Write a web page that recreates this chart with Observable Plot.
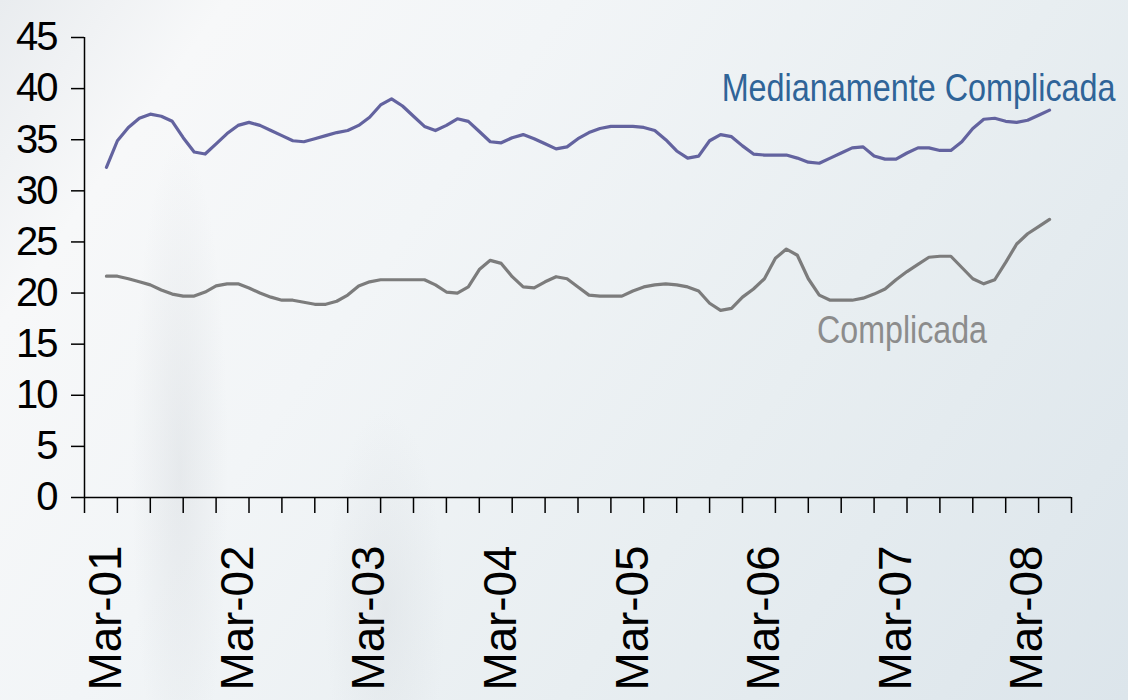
<!DOCTYPE html>
<html>
<head>
<meta charset="utf-8">
<script src="https://cdn.jsdelivr.net/npm/d3@7"></script>
<script src="https://cdn.jsdelivr.net/npm/@observablehq/plot@0.6"></script>
<style>
  html, body { margin: 0; padding: 0; }
  body {
    width: 1128px; height: 700px; overflow: hidden;
    background:
      radial-gradient(ellipse 48px 330px at 180px 470px, rgba(200,205,210,0.30), rgba(200,205,210,0) 100%),
      radial-gradient(ellipse 60px 200px at 385px 610px, rgba(200,205,210,0.25), rgba(200,205,210,0) 100%),
      linear-gradient(125deg, #e9ecef 0%, #f7f8f9 14%, #f2f5f7 35%, #e8eef1 65%, #dce5eb 100%);
  }
  #chart svg { display: block; background: transparent; }
</style>
</head>
<body>
<div id="chart"></div>
<script>
// Month index 0 = Jan-01; data starts Mar-01 (index 2) and runs monthly to May-08
const startMonthIndex = 2;
const medianamente = [
  32.3, 34.9, 36.2, 37.1, 37.5, 37.3, 36.8, 35.2, 33.8, 33.6, 34.6, 35.6,
  36.4, 36.7, 36.4, 35.9, 35.4, 34.9, 34.8, 35.1, 35.4, 35.7, 35.9, 36.4,
  37.2, 38.4, 39.0, 38.3, 37.3, 36.3, 35.9, 36.4, 37.05, 36.8, 35.8, 34.8,
  34.7, 35.2, 35.5, 35.1, 34.6, 34.1, 34.3, 35.1, 35.7, 36.1, 36.3, 36.3,
  36.3, 36.2, 35.9, 35.0, 33.9, 33.2, 33.4, 34.9, 35.5, 35.3, 34.4, 33.6,
  33.5, 33.5, 33.5, 33.2, 32.8, 32.7, 33.2, 33.7, 34.2, 34.3, 33.4, 33.1,
  33.1, 33.7, 34.2, 34.2, 33.95, 33.95, 34.8, 36.1, 37.0, 37.1, 36.8, 36.7,
  36.9, 37.4, 37.9
];
const complicada = [
  21.65, 21.65, 21.4, 21.1, 20.8, 20.3, 19.9, 19.7, 19.7, 20.1, 20.7, 20.9,
  20.9, 20.5, 20.0, 19.6, 19.3, 19.3, 19.1, 18.9, 18.9, 19.2, 19.8, 20.7,
  21.1, 21.3, 21.3, 21.3, 21.3, 21.3, 20.8, 20.1, 20.0, 20.6, 22.3, 23.2,
  22.9, 21.6, 20.6, 20.5, 21.1, 21.6, 21.4, 20.6, 19.8, 19.7, 19.7, 19.7,
  20.2, 20.6, 20.8, 20.9, 20.8, 20.6, 20.2, 19.0, 18.3, 18.5, 19.6, 20.4,
  21.4, 23.4, 24.3, 23.7, 21.4, 19.8, 19.3, 19.3, 19.3, 19.5, 19.9, 20.4,
  21.3, 22.1, 22.8, 23.5, 23.6, 23.6, 22.5, 21.4, 20.9, 21.3, 23.0, 24.8,
  25.8, 26.5, 27.2
];
const yearLabels = ["Mar-01", "Mar-02", "Mar-03", "Mar-04", "Mar-05", "Mar-06", "Mar-07", "Mar-08"];
const yearLabelMonths = [2, 14, 26, 38, 50, 62, 74, 86];
const xTickMonths = d3.range(0, 91, 3);
const yTicks = [0, 5, 10, 15, 20, 25, 30, 35, 40, 45];
const seriesNames = ["Medianamente Complicada", "Complicada"];
const seriesLabelPos = [{x: 58.1, y: 40.0}, {x: 66.8, y: 16.3}];

const toRows = (vals, name) => vals.map((v, i) => ({month: i + startMonthIndex, value: v, series: name}));
const rowsMed = toRows(medianamente, seriesNames[0]);
const rowsCom = toRows(complicada, seriesNames[1]);
const labelRows = seriesNames.map((n, i) => ({name: n, ...seriesLabelPos[i]}));

const medColor = "#63639f";
const comColor = "#7c7c7c";

const chart = Plot.plot({
  width: 1128,
  height: 700,
  marginLeft: 84,
  marginRight: 57,
  marginTop: 37,
  marginBottom: 203,
  style: {background: "transparent", fontFamily: "'Liberation Sans', Arial, sans-serif", color: "#000"},
  x: {type: "linear", domain: [0, 90]},
  y: {domain: [0, 45]},
  marks: [
    Plot.axisY({ticks: yTicks, tickSize: 13, tickPadding: 15, fontSize: 40, strokeWidth: 1.5, tickFormat: d => String(d), label: null}),
    Plot.axisX({ticks: xTickMonths, tickSize: 16, strokeWidth: 1.5, tickFormat: () => "", label: null}),
    Plot.axisX({ticks: yearLabelMonths, tickSize: 0, tickPadding: 48, tickRotate: -90, fontSize: 46,
                tickFormat: m => yearLabels[yearLabelMonths.indexOf(m)], label: null}),
    Plot.ruleX([0], {strokeWidth: 1.5}),
    Plot.ruleY([0], {strokeWidth: 1.5}),
    Plot.lineY(rowsCom, {x: "month", y: "value", stroke: comColor, strokeWidth: 3.2}),
    Plot.lineY(rowsMed, {x: "month", y: "value", stroke: medColor, strokeWidth: 3.2}),
    Plot.text(labelRows, {x: "x", y: "y", text: "name", textAnchor: "start", fontSize: 39,
      fill: (d, i) => i === 0 ? "#2f6498" : "#8c8c8c",
      fontFamily: "'Liberation Sans', Arial, sans-serif"})
  ]
});
document.getElementById("chart").appendChild(chart);

// Match the original typographic proportions (narrow series labels, tight axis digits)
const svg = d3.select(chart);
svg.selectAll('g[aria-label="y-axis tick label"] text').each(function() {
  this.setAttribute("letter-spacing", "-2");
});
svg.selectAll("text").each(function() {
  const t = this.textContent;
  if (t === "Medianamente Complicada" || t === "Complicada") {
    const target = t === "Complicada" ? 170 : 394;
    const w = this.getComputedTextLength();
    const k = target / w;
    const tr = this.getAttribute("transform") || "";
    this.setAttribute("transform", (tr + ` scale(${k.toFixed(4)},1)`).trim());
  }
  if (yearLabels.includes(t)) { this.setAttribute("textLength", 145); this.setAttribute("lengthAdjust", "spacingAndGlyphs"); }
});
</script>
</body>
</html>
